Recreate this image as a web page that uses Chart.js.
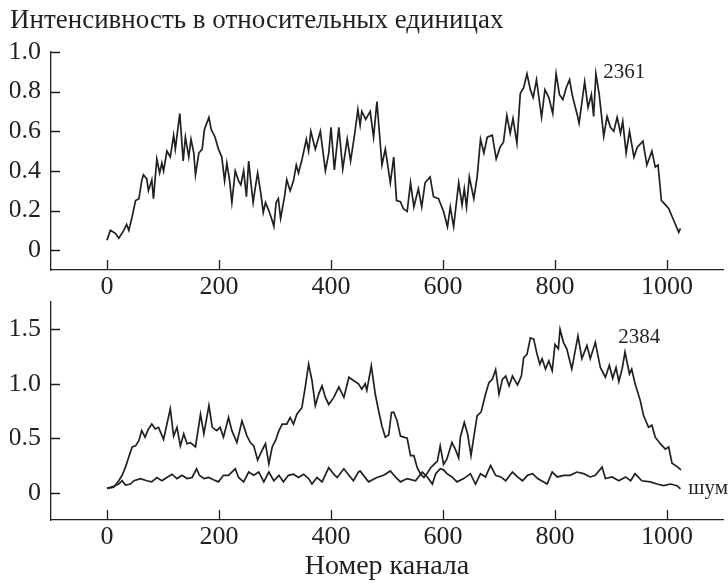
<!DOCTYPE html>
<html>
<head>
<meta charset="utf-8">
<script src="https://cdn.jsdelivr.net/npm/chart.js@4.4.1/dist/chart.umd.min.js"></script>
<style>
  html, body { margin: 0; padding: 0; background: #fff; }
  .wrap { position: relative; width: 728px; height: 584px; }
  canvas { position: absolute; left: 0; top: 0; }
</style>
</head>
<body>
<div class="wrap">
  <canvas id="panelTop" width="728" height="584"></canvas>
  <canvas id="panelBottom" width="728" height="584"></canvas>
</div>
<script>
const ink = '#231f20';
const serif = '"Liberation Serif", "Times New Roman", serif';

// ticks
const xTicks = [0, 200, 400, 600, 800, 1000];
const yTicksTop = [0, 0.2, 0.4, 0.6, 0.8, 1.0];
const yTicksBottom = [0, 0.5, 1.0, 1.5];

// спектр 2361 (верхняя панель)
const ch2361 = [0,6,15,21,30,35,39,45,51,57,62,65,71,74,80,83,89,94,98,101,107,113,119,122,130,136,140,146,150,155,158,164,170,174,182,186,193,199,205,210,214,219,223,229,235,239,244,249,253,257,261,265,269,275,279,283,289,295,298,302,306,310,317,321,327,333,338,342,348,356,360,364,372,381,390,396,400,406,414,421,429,435,442,448,452,455,462,470,476,482,491,497,506,512,517,524,529,536,542,548,556,562,568,577,583,592,601,608,613,619,628,634,638,642,647,655,661,667,673,679,688,695,702,708,714,720,725,732,738,744,750,756,761,767,776,782,789,796,802,808,814,820,826,831,840,843,853,859,865,869,873,879,887,893,899,905,911,917,921,927,933,941,947,957,964,973,979,984,990,997,1003,1009,1021,1024];
const val2361 = [0.05,0.10,0.085,0.06,0.10,0.13,0.10,0.17,0.25,0.26,0.35,0.38,0.36,0.30,0.355,0.26,0.46,0.39,0.44,0.40,0.50,0.47,0.58,0.51,0.69,0.45,0.57,0.47,0.56,0.49,0.38,0.49,0.51,0.61,0.67,0.61,0.57,0.51,0.47,0.35,0.44,0.35,0.24,0.40,0.35,0.33,0.40,0.27,0.45,0.34,0.24,0.32,0.39,0.28,0.19,0.24,0.20,0.15,0.12,0.24,0.26,0.16,0.27,0.355,0.30,0.35,0.43,0.39,0.455,0.56,0.50,0.60,0.51,0.60,0.40,0.49,0.62,0.405,0.62,0.41,0.56,0.45,0.58,0.71,0.63,0.70,0.66,0.70,0.57,0.75,0.43,0.51,0.34,0.47,0.25,0.245,0.21,0.195,0.34,0.218,0.31,0.218,0.34,0.37,0.27,0.26,0.195,0.118,0.218,0.118,0.34,0.228,0.31,0.218,0.37,0.26,0.37,0.56,0.49,0.57,0.58,0.46,0.52,0.545,0.68,0.59,0.665,0.54,0.79,0.82,0.89,0.81,0.77,0.86,0.67,0.81,0.77,0.69,0.89,0.785,0.76,0.82,0.86,0.78,0.68,0.64,0.85,0.72,0.785,0.675,0.89,0.785,0.575,0.675,0.62,0.60,0.67,0.59,0.65,0.49,0.60,0.47,0.52,0.55,0.43,0.50,0.42,0.43,0.25,0.23,0.21,0.17,0.09,0.11];

// спектр 2384 (нижняя панель)
const ch2384 = [0,12,21,27,33,39,45,51,57,62,68,74,80,86,92,101,107,113,119,125,131,137,143,149,158,167,173,182,188,196,202,208,217,223,232,241,250,256,262,269,277,283,289,295,301,307,313,321,327,333,339,348,354,360,366,372,378,384,390,396,405,414,423,432,440,449,455,461,464,472,479,485,491,497,503,508,512,518,524,530,536,542,548,554,560,566,572,578,584,590,595,601,607,616,622,628,631,638,644,650,655,661,668,676,682,688,694,700,706,712,718,724,733,740,744,750,756,762,768,773,777,783,789,795,800,806,809,815,821,830,841,848,857,863,872,881,890,897,903,909,914,920,925,933,937,943,952,958,967,973,979,988,997,1003,1009,1018,1025];
const val2384 = [0.04,0.05,0.11,0.16,0.235,0.33,0.42,0.43,0.48,0.57,0.51,0.585,0.63,0.585,0.60,0.49,0.63,0.77,0.52,0.60,0.43,0.54,0.45,0.46,0.42,0.72,0.54,0.80,0.60,0.57,0.60,0.51,0.69,0.57,0.46,0.66,0.52,0.46,0.43,0.30,0.39,0.45,0.265,0.42,0.48,0.57,0.63,0.63,0.69,0.63,0.72,0.78,0.97,1.18,1.03,0.80,0.905,0.98,0.875,0.81,0.875,0.97,0.875,1.06,1.03,1.00,0.95,1.00,0.94,1.165,0.906,0.752,0.61,0.51,0.53,0.737,0.74,0.66,0.52,0.51,0.50,0.34,0.34,0.23,0.17,0.14,0.18,0.23,0.26,0.29,0.43,0.26,0.31,0.46,0.40,0.32,0.51,0.645,0.54,0.34,0.51,0.707,0.74,0.906,1.01,1.04,1.13,0.906,1.04,1.07,0.98,1.07,0.99,1.07,1.24,1.27,1.42,1.41,1.27,1.18,1.23,1.135,1.21,1.12,1.36,1.32,1.50,1.38,1.32,1.135,1.44,1.23,1.35,1.23,1.38,1.15,1.06,1.17,1.05,1.15,1.02,1.14,1.29,1.09,1.135,1.00,0.85,0.71,0.60,0.62,0.51,0.45,0.40,0.42,0.27,0.24,0.21];

// шум
const chNoise = [0,12,21,27,33,42,48,60,71,80,89,98,107,116,125,134,143,152,160,165,173,182,190,199,208,217,229,235,244,253,262,271,280,289,298,307,315,324,333,342,351,360,366,375,384,396,405,411,423,432,440,449,452,467,482,494,506,515,524,536,551,563,572,581,587,595,601,607,616,625,637,649,658,667,676,685,694,703,712,724,733,742,751,760,769,786,795,804,816,827,839,851,863,872,884,890,902,914,926,935,943,955,970,982,994,1006,1018,1024];
const valNoise = [0.04,0.06,0.08,0.11,0.07,0.08,0.11,0.13,0.11,0.10,0.14,0.11,0.14,0.17,0.13,0.16,0.13,0.14,0.22,0.16,0.13,0.14,0.12,0.10,0.16,0.16,0.22,0.14,0.10,0.19,0.16,0.19,0.10,0.19,0.11,0.16,0.10,0.16,0.17,0.14,0.17,0.13,0.08,0.14,0.10,0.23,0.17,0.14,0.22,0.16,0.11,0.19,0.20,0.10,0.14,0.16,0.20,0.145,0.10,0.13,0.11,0.19,0.145,0.08,0.175,0.22,0.21,0.175,0.145,0.10,0.13,0.175,0.08,0.175,0.145,0.25,0.16,0.145,0.11,0.19,0.145,0.11,0.16,0.175,0.13,0.08,0.19,0.145,0.16,0.16,0.19,0.175,0.145,0.16,0.235,0.13,0.145,0.11,0.145,0.11,0.175,0.11,0.10,0.08,0.065,0.08,0.065,0.035];

const pts = (xs, ys) => xs.map((x, i) => ({ x: x, y: ys[i] }));

// засечки внутрь области графика
const innerTicks = {
  id: 'innerTicks',
  afterDraw(chart) {
    const { ctx, chartArea: a, scales: { x, y } } = chart;
    ctx.save();
    ctx.strokeStyle = ink;
    ctx.lineWidth = 1.3;
    ctx.beginPath();
    x.ticks.forEach(t => {
      const px = Math.round(x.getPixelForValue(t.value)) + 0.5;
      ctx.moveTo(px, a.bottom);
      ctx.lineTo(px, a.bottom - 10);
    });
    y.ticks.forEach(t => {
      const py = Math.round(y.getPixelForValue(t.value)) + 0.5;
      ctx.moveTo(a.left, py);
      ctx.lineTo(a.left + 9, py);
    });
    ctx.stroke();
    ctx.restore();
  }
};

// подписи кривых
const curveLabels = {
  id: 'curveLabels',
  afterDraw(chart, args, opts) {
    const { ctx, scales: { x, y } } = chart;
    ctx.save();
    ctx.fillStyle = ink;
    ctx.font = '21px ' + serif;
    ctx.textAlign = 'left';
    ctx.textBaseline = 'middle';
    (opts.items || []).forEach(it => {
      ctx.fillText(it.text, x.getPixelForValue(it.x), y.getPixelForValue(it.y));
    });
    ctx.restore();
  }
};

const line = (data) => ({
  data: data,
  borderColor: ink,
  borderWidth: 1.7,
  pointRadius: 0,
  tension: 0,
  fill: false
});

const xAxis = (h, title) => ({
  type: 'linear',
  min: -100,
  max: 1100,
  afterBuildTicks: s => { s.ticks = xTicks.map(v => ({ value: v })); },
  grid: { display: false, drawTicks: false },
  border: { display: true, color: ink, width: 1.3 },
  ticks: {
    color: ink,
    font: { family: serif, size: 26 },
    padding: 2,
    maxRotation: 0,
    autoSkip: false,
    callback: v => String(v)
  },
  title: title ? {
    display: true,
    text: title,
    color: ink,
    font: { family: serif, size: 28 },
    padding: { top: 0, bottom: 1 }
  } : { display: false },
  afterFit: s => {
    s.height = h;
    s.paddingLeft = 0; s.paddingRight = 0;
  }
});

const yAxis = (min, max, ticks) => ({
  type: 'linear',
  min: min,
  max: max,
  afterBuildTicks: s => { s.ticks = ticks.map(v => ({ value: v })); },
  grid: { display: false, drawTicks: false },
  border: { display: true, color: ink, width: 1.3 },
  ticks: {
    color: ink,
    font: { family: serif, size: 26 },
    padding: 10,
    callback: v => v === 0 ? '0' : v.toFixed(1)
  },
  afterFit: s => {
    s.width = 41;
    s.paddingTop = 0; s.paddingBottom = 0;
  }
});

new Chart(document.getElementById('panelTop'), {
  type: 'line',
  data: { datasets: [line(pts(ch2361, val2361))] },
  options: {
    responsive: false,
    animation: false,
    layout: { padding: { left: 10, right: 5, top: 0, bottom: 284 } },
    scales: {
      x: xAxis(30, null),
      y: yAxis(-0.1, 1.0, yTicksTop)
    },
    plugins: {
      legend: { display: false },
      tooltip: { enabled: false },
      title: {
        display: true,
        text: 'Интенсивность в относительных единицах',
        align: 'start',
        color: ink,
        font: { family: serif, size: 27, weight: 'normal' },
        padding: { top: 5, bottom: 14.6 }
      },
      curveLabels: { items: [{ text: '2361', x: 886, y: 0.896 }] }
    }
  },
  plugins: [innerTicks, curveLabels]
});

new Chart(document.getElementById('panelBottom'), {
  type: 'line',
  data: { datasets: [line(pts(ch2384, val2384)), line(pts(chNoise, valNoise))] },
  options: {
    responsive: false,
    animation: false,
    layout: { padding: { left: 10, right: 5, top: 302, bottom: 0 } },
    scales: {
      x: xAxis(64, 'Номер канала'),
      y: yAxis(-0.25, 1.75, yTicksBottom)
    },
    plugins: {
      legend: { display: false },
      tooltip: { enabled: false },
      curveLabels: {
        items: [
          { text: '2384', x: 913, y: 1.42 },
          { text: 'шум', x: 1038, y: 0.04 }
        ]
      }
    }
  },
  plugins: [innerTicks, curveLabels]
});
</script>
</body>
</html>
